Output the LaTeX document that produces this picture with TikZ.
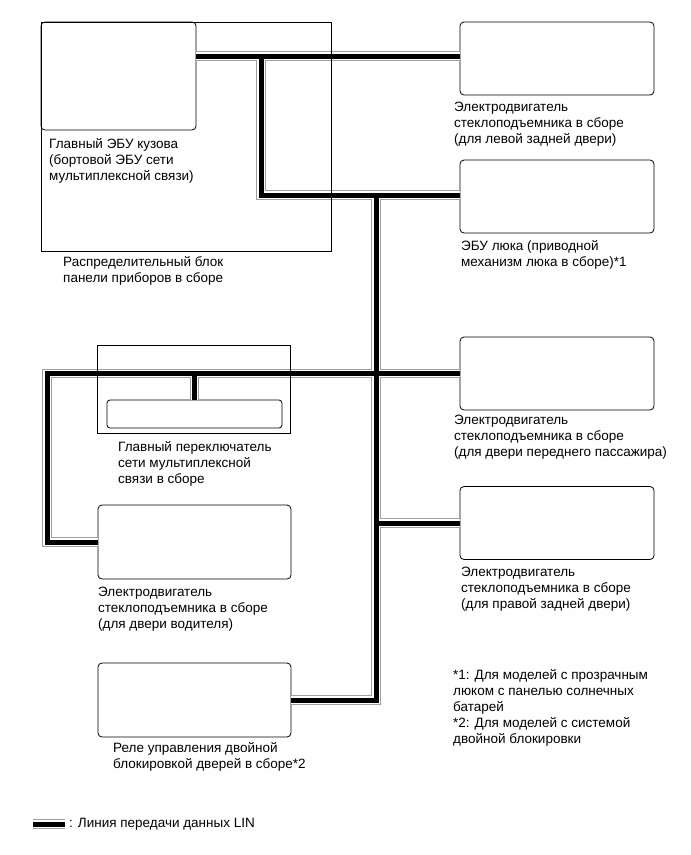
\documentclass[tikz,border=0pt]{standalone}
\usepackage{fontspec}
\setmainfont{Liberation Sans}
\usepackage{tikz}
\usetikzlibrary{positioning}

\begin{document}
\begin{tikzpicture}[
        x=1pt, y=-1pt,
        every node/.style={font=\fontsize{13.5}{16}\selectfont},
        unit/.style={draw, rounded corners=4pt, line width=0.8pt, inner sep=0pt,
                     minimum width=194pt, minimum height=73pt},
        frame/.style={draw, line width=0.8pt, inner sep=0pt},
        lbl/.style={anchor=north west, inner sep=0pt, align=left},
        lin/.style={line width=5pt,
                    preaction={draw=gray!75, double=white, double distance=7.5pt, line width=1pt}}
    ]
        \useasboundingbox (0,0) rectangle (691,855);

        % units
        \node[unit, minimum width=155pt, minimum height=108pt] (ecu) at (118.5,76) {};
        \node[unit] (lrr)   at (557,58.5)  {};
        \node[unit] (sun)   at (557,196.5) {};
        \node[unit] (fp)    at (557,373.5) {};
        \node[unit] (rr)    at (557,523)   {};
        \node[unit, minimum width=193pt, minimum height=74pt] (drv)   at (194.5,542) {};
        \node[unit, minimum width=193pt, minimum height=74pt] (relay) at (194.5,700) {};
        \node[unit, minimum width=175pt, minimum height=28pt, rounded corners=3pt] (sw) at (194.5,414) {};

        % bus junctions
        \coordinate (j1) at (261,56);
        \coordinate (j2) at (376,195);
        \coordinate (jl) at (47,373.5);

        % LIN bus
        \draw[lin] (ecu.east |- j1) -- (lrr.west |- j1)
            (j1) -- (j1 |- j2) -- (sun.west |- j2)
            (j2) -- (j2 |- relay.east) -- (relay.east)
            (fp.west) -- (jl) -- (jl |- drv.west) -- (drv.west)
            (sw.north |- jl) -- (sw.north)
            (rr.west) -- (j2 |- rr.west);

        % frames
        \node[frame, minimum width=290pt, minimum height=229pt] (ipb) at (186,136.5) {};
        \node[frame, minimum width=193pt, minimum height=88pt] (swbox) at (193.5,389) {};

        % labels
        \node[lbl] (ecutxt) at (49,138) {Главный ЭБУ кузова\\(бортовой ЭБУ сети\\мультиплексной связи)};
        \node[lbl] (ipbtxt) at (63,256) {Распределительный блок\\панели приборов в сборе};
        \node[lbl] (lrrtxt) at (454,102) {Электродвигатель\\стеклоподъемника в сборе\\(для левой задней двери)};
        \node[lbl] (suntxt) at (461,240) {ЭБУ люка (приводной\\механизм люка в сборе)*1};
        \node[lbl] (fptxt)  at (454,415) {Электродвигатель\\стеклоподъемника в сборе\\(для двери переднего пассажира)};
        \node[lbl] (rrtxt)  at (461,567) {Электродвигатель\\стеклоподъемника в сборе\\(для правой задней двери)};
        \node[lbl] (swtxt)  at (118,441) {Главный переключатель\\сети мультиплексной\\связи в сборе};
        \node[lbl] (drvtxt) at (98,587) {Электродвигатель\\стеклоподъемника в сборе\\(для двери водителя)};
        \node[lbl] (reltxt) at (113,742) {Реле управления двойной\\блокировкой дверей в сборе*2};
        \node[lbl] (note1)  at (453,669) {*1: Для моделей с прозрачным\\люком с панелью солнечных\\батарей};
        \node[lbl] (note2)  at (453,717) {*2: Для моделей с системой\\двойной блокировки};

        % legend
        \coordinate (lega) at (33,824);
        \coordinate (legb) at (65,824);
        \draw[lin] (lega) -- (legb);
        \node[lbl] (legtxt) at (69,818) {: Линия передачи данных LIN};
    \end{tikzpicture}
\end{document}
